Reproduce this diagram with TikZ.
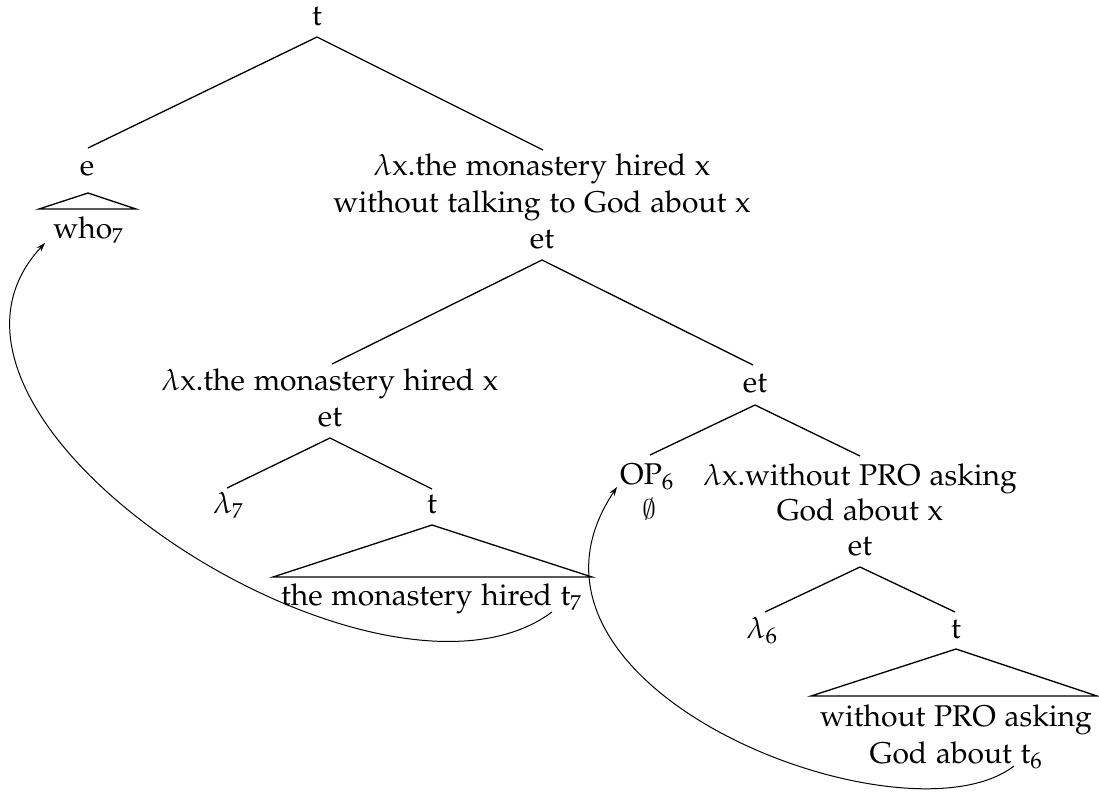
\documentclass[tikz,border=0pt]{standalone}
\usepackage[T1]{fontenc}
\usepackage[osf]{mathpazo}
\usepackage{graphicx}
\usetikzlibrary{calc,arrows.meta}
% small old-style index sitting on the baseline
\newcommand{\idx}[1]{{\fontsize{21}{21}\selectfont #1}}
% slashed-zero empty set from Computer Modern symbols, scaled up
\newcommand{\nullset}{\scalebox{2.7}{\usefont{OMS}{cmsy}{m}{n}\fontsize{10}{10}\selectfont\symbol{"3B}}}
\begin{document}
\begin{tikzpicture}[x=1pt,y=-1pt,
  lbl/.style={anchor=base, inner sep=0pt, font=\fontsize{30}{36}\selectfont},
  branch/.style={line width=1.3pt, line join=miter},
  move/.style={line width=1pt, -{Stealth[length=9pt,width=6pt]}}]
\useasboundingbox (0,0) rectangle (1099,793);

% labels of the tree
\node[lbl] (root) at (317,25) {t};
\node[lbl] (e)    at (87,175) {e};
\node[lbl] (who)  at (88,238) {who\idx{7}};
\node[lbl] (a1)   at (542,175) {$\lambda$x.the monastery hired x};
\node[lbl] (a2)   at (542,212) {without talking to God about x};
\node[lbl] (a3)   at (542,248) {et};
\node[lbl] (b1)   at (330,390) {$\lambda$x.the monastery hired x};
\node[lbl] (b2)   at (330,426) {et};
\node[lbl] (lam7) at (228,513) {$\lambda$\idx{7}};
\node[lbl] (t7)   at (432,513) {t};
\node[lbl] (s7)   at (431,605) {the monastery hired t\idx{7}};
\node[lbl] (c)    at (755,392) {et};
\node[lbl] (op)   at (647,484) {OP$_6$};
\node[lbl] (null) at (649,518) {\nullset};
\node[lbl] (d1)   at (860,485) {$\lambda$x.without PRO asking};
\node[lbl] (d2)   at (860,520) {God about x};
\node[lbl] (d3)   at (860,555) {et};
\node[lbl] (lam6) at (762,638) {$\lambda_6$};
\node[lbl] (t6)   at (956,638) {t};
\node[lbl] (s6a)  at (956,726) {without PRO asking};
\node[lbl] (s6b)  at (956,763) {God about t$_6$};

% branches
\draw[branch] ($(e.base)+(1,-27)$) -- ($(root.base)+(0,12)$) -- ($(a1.base)+(1,-25)$);
\draw[branch] ($(b1.base)+(2,-26)$) -- ($(a3.base)+(0,12)$) -- ($(c.base)+(-2,-27)$);
\draw[branch] ($(lam7.base)+(-1,-25)$) -- ($(b2.base)+(0,12)$) -- ($(t7.base)+(0,-24)$);
\draw[branch] ($(op.base)+(3,-29)$) -- ($(c.base)+(0,13)$) -- ($(d1.base)+(0,-29)$);
\draw[branch] ($(lam6.base)+(3,-26)$) -- ($(d3.base)+(0,12)$) -- ($(t6.base)+(-1,-26)$);

% roof triangles
\draw[branch] ($(e.base)+(1,18)$) -- ($(who.base)+(48,-29)$) -- ($(who.base)+(-49,-29)$) -- cycle;
\draw[branch] ($(t7.base)+(0,12)$) -- ($(s7.base)+(161,-28)$) -- ($(s7.base)+(-158,-28)$) -- cycle;
\draw[branch] ($(t6.base)+(0,11)$) -- ($(s6a.base)+(141,-30)$) -- ($(s6a.base)+(-145,-30)$) -- cycle;

% movement arrows
\draw[move] ($(s7.base)+(121,7)$) .. controls +(-172,128) and +(-165,177) .. ($(who.base)+(-43,5)$);
\draw[move] ($(s6b.base)+(58,3)$) .. controls +(-109,84) and +(-135,202) .. ($(op.base)+(-30,3)$);
\end{tikzpicture}
\end{document}
